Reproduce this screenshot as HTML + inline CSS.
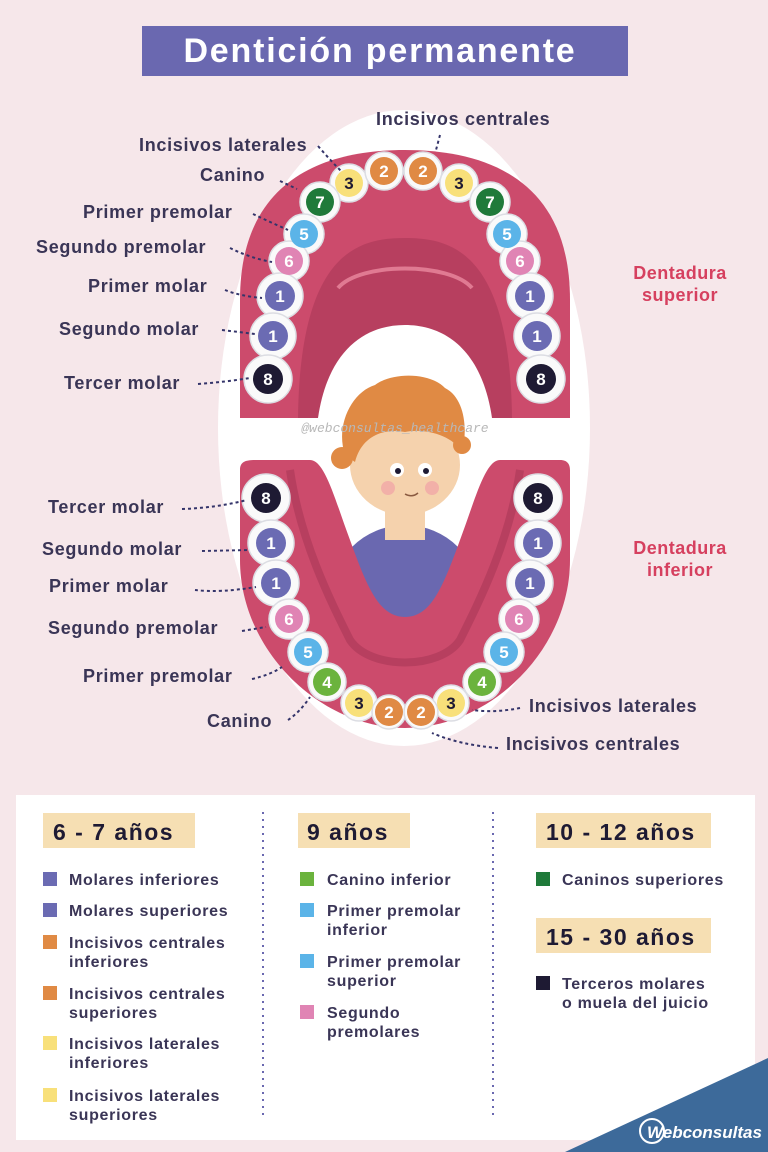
<!DOCTYPE html>
<html><head><meta charset="utf-8"><style>
body{margin:0;width:768px;height:1152px;background:#f6e7ea;overflow:hidden;font-family:"Liberation Sans",sans-serif}
svg{position:absolute;left:0;top:0}
</style></head><body>
<svg width="768" height="1152" viewBox="0 0 768 1152" font-family="Liberation Sans, sans-serif">
<rect x="0" y="0" width="768" height="1152" fill="#f6e7ea"/>
<rect x="142" y="26" width="486" height="50" fill="#6a68b0"/>
<text x="380" y="62" text-anchor="middle" font-size="34" font-weight="bold" letter-spacing="1.8" fill="#fff">Dentición permanente</text>
<ellipse cx="404" cy="428" rx="186" ry="318" fill="#fff"/>
<!-- upper gum -->
<path d="M240,418 L240,300 C240,175 330,150 405,150 C480,150 570,175 570,300 L570,418 Z" fill="#cc4b6c"/>
<path d="M298,418 C300,250 360,238 405,238 C450,238 510,250 512,418 Z" fill="#b73f5f"/>
<path d="M318,418 C328,350 365,325 405,325 C445,325 482,350 492,418 Z" fill="#fff"/>
<path d="M338,288 C360,262 450,262 472,288" stroke="#e07a92" stroke-width="4" fill="none"/>
<!-- boy -->
<ellipse cx="405" cy="600" rx="75" ry="75" fill="#6a68b0"/>
<rect x="385" y="500" width="40" height="40" fill="#f5d2ad"/>
<ellipse cx="405" cy="465" rx="55" ry="50" fill="#f5d2ad"/>
<path d="M345,455 C335,425 352,392 375,385 C392,372 430,372 445,388 C465,398 468,430 462,452 C452,435 425,428 405,432 C385,428 362,435 355,462 Z" fill="#e08a44"/>
<circle cx="342" cy="458" r="11" fill="#e08a44"/><circle cx="462" cy="445" r="9" fill="#e08a44"/>
<circle cx="397" cy="470" r="7" fill="#fff"/><circle cx="398" cy="471" r="3" fill="#1e1a33"/>
<circle cx="425" cy="470" r="7" fill="#fff"/><circle cx="426" cy="471" r="3" fill="#1e1a33"/>
<circle cx="388" cy="488" r="7" fill="#f2b0a8"/><circle cx="432" cy="488" r="7" fill="#f2b0a8"/>
<path d="M405,494 Q412,498 418,493" stroke="#8a5a40" stroke-width="1.5" fill="none"/>
<text x="395" y="432" text-anchor="middle" font-family="Liberation Mono, monospace" font-style="italic" font-size="13" fill="#b8b8b8">@webconsultas_healthcare</text>
<!-- lower gum -->
<path d="M240,470 C240,462 245,460 255,460 L310,460 C325,460 335,500 350,540 C368,590 380,617 405,617 C430,617 442,590 460,540 C475,500 485,460 500,460 L560,460 C568,460 570,465 570,470 L570,560 C570,650 490,728 405,728 C320,728 240,650 240,560 Z" fill="#cc4b6c"/>
<path d="M290,470 C300,540 330,600 350,640 C370,670 440,670 460,640 C480,600 510,540 520,470" stroke="#b73f5f" stroke-width="8" fill="none"/>
<g font-weight="bold" font-size="17" text-anchor="middle">
<g stroke="#dcdde3" stroke-width="1.5">
<circle cx="349" cy="183" r="19" fill="#fafafa"/><circle cx="384" cy="171" r="19" fill="#fafafa"/><circle cx="423" cy="171" r="19" fill="#fafafa"/><circle cx="459" cy="183" r="19" fill="#fafafa"/>
<circle cx="320" cy="202" r="20" fill="#fafafa"/><circle cx="490" cy="202" r="20" fill="#fafafa"/>
<circle cx="304" cy="234" r="20" fill="#fafafa"/><circle cx="507" cy="234" r="20" fill="#fafafa"/>
<circle cx="289" cy="261" r="20" fill="#fafafa"/><circle cx="520" cy="261" r="20" fill="#fafafa"/>
<circle cx="280" cy="296" r="23" fill="#fafafa"/><circle cx="530" cy="296" r="23" fill="#fafafa"/>
<circle cx="273" cy="336" r="23" fill="#fafafa"/><circle cx="537" cy="336" r="23" fill="#fafafa"/>
<circle cx="268" cy="379" r="24" fill="#fafafa"/><circle cx="541" cy="379" r="24" fill="#fafafa"/>
<circle cx="266" cy="498" r="24" fill="#fafafa"/><circle cx="538" cy="498" r="24" fill="#fafafa"/>
<circle cx="271" cy="543" r="23" fill="#fafafa"/><circle cx="538" cy="543" r="23" fill="#fafafa"/>
<circle cx="276" cy="583" r="23" fill="#fafafa"/><circle cx="530" cy="583" r="23" fill="#fafafa"/>
<circle cx="289" cy="619" r="20" fill="#fafafa"/><circle cx="519" cy="619" r="20" fill="#fafafa"/>
<circle cx="308" cy="652" r="20" fill="#fafafa"/><circle cx="504" cy="652" r="20" fill="#fafafa"/>
<circle cx="327" cy="682" r="19" fill="#fafafa"/><circle cx="482" cy="682" r="19" fill="#fafafa"/>
<circle cx="359" cy="703" r="18" fill="#fafafa"/><circle cx="451" cy="703" r="18" fill="#fafafa"/>
<circle cx="389" cy="712" r="17" fill="#fafafa"/><circle cx="421" cy="712" r="17" fill="#fafafa"/>
</g>
<circle cx="349" cy="183" r="14" fill="#f8e07a"/><text x="349" y="189" fill="#1e1a33">3</text>
<circle cx="384" cy="171" r="14" fill="#e08a44"/><text x="384" y="177" fill="#fff">2</text>
<circle cx="423" cy="171" r="14" fill="#e08a44"/><text x="423" y="177" fill="#fff">2</text>
<circle cx="459" cy="183" r="14" fill="#f8e07a"/><text x="459" y="189" fill="#1e1a33">3</text>
<circle cx="320" cy="202" r="14" fill="#1f7a3a"/><text x="320" y="208" fill="#fff">7</text>
<circle cx="490" cy="202" r="14" fill="#1f7a3a"/><text x="490" y="208" fill="#fff">7</text>
<circle cx="304" cy="234" r="14" fill="#5bb4e8"/><text x="304" y="240" fill="#fff">5</text>
<circle cx="507" cy="234" r="14" fill="#5bb4e8"/><text x="507" y="240" fill="#fff">5</text>
<circle cx="289" cy="261" r="14" fill="#e084b4"/><text x="289" y="267" fill="#fff">6</text>
<circle cx="520" cy="261" r="14" fill="#e084b4"/><text x="520" y="267" fill="#fff">6</text>
<circle cx="280" cy="296" r="15" fill="#6b6bb3"/><text x="280" y="302" fill="#fff">1</text>
<circle cx="530" cy="296" r="15" fill="#6b6bb3"/><text x="530" y="302" fill="#fff">1</text>
<circle cx="273" cy="336" r="15" fill="#6b6bb3"/><text x="273" y="342" fill="#fff">1</text>
<circle cx="537" cy="336" r="15" fill="#6b6bb3"/><text x="537" y="342" fill="#fff">1</text>
<circle cx="268" cy="379" r="15" fill="#1e1a33"/><text x="268" y="385" fill="#fff">8</text>
<circle cx="541" cy="379" r="15" fill="#1e1a33"/><text x="541" y="385" fill="#fff">8</text>
<circle cx="266" cy="498" r="15" fill="#1e1a33"/><text x="266" y="504" fill="#fff">8</text>
<circle cx="538" cy="498" r="15" fill="#1e1a33"/><text x="538" y="504" fill="#fff">8</text>
<circle cx="271" cy="543" r="15" fill="#6b6bb3"/><text x="271" y="549" fill="#fff">1</text>
<circle cx="538" cy="543" r="15" fill="#6b6bb3"/><text x="538" y="549" fill="#fff">1</text>
<circle cx="276" cy="583" r="15" fill="#6b6bb3"/><text x="276" y="589" fill="#fff">1</text>
<circle cx="530" cy="583" r="15" fill="#6b6bb3"/><text x="530" y="589" fill="#fff">1</text>
<circle cx="289" cy="619" r="14" fill="#e084b4"/><text x="289" y="625" fill="#fff">6</text>
<circle cx="519" cy="619" r="14" fill="#e084b4"/><text x="519" y="625" fill="#fff">6</text>
<circle cx="308" cy="652" r="14" fill="#5bb4e8"/><text x="308" y="658" fill="#fff">5</text>
<circle cx="504" cy="652" r="14" fill="#5bb4e8"/><text x="504" y="658" fill="#fff">5</text>
<circle cx="327" cy="682" r="14" fill="#6bb33d"/><text x="327" y="688" fill="#fff">4</text>
<circle cx="482" cy="682" r="14" fill="#6bb33d"/><text x="482" y="688" fill="#fff">4</text>
<circle cx="359" cy="703" r="14" fill="#f8e07a"/><text x="359" y="709" fill="#1e1a33">3</text>
<circle cx="451" cy="703" r="14" fill="#f8e07a"/><text x="451" y="709" fill="#1e1a33">3</text>
<circle cx="389" cy="712" r="14" fill="#e08a44"/><text x="389" y="718" fill="#fff">2</text>
<circle cx="421" cy="712" r="14" fill="#e08a44"/><text x="421" y="718" fill="#fff">2</text>
</g>
<!-- labels -->
<g font-size="18" font-weight="bold" fill="#3a3556" letter-spacing="0.7">
<text x="376" y="125">Incisivos centrales</text>
<text x="139" y="151">Incisivos laterales</text>
<text x="200" y="181">Canino</text>
<text x="83" y="218">Primer premolar</text>
<text x="36" y="253">Segundo premolar</text>
<text x="88" y="292">Primer molar</text>
<text x="59" y="335">Segundo molar</text>
<text x="64" y="389">Tercer molar</text>
<text x="48" y="513">Tercer molar</text>
<text x="42" y="555">Segundo molar</text>
<text x="49" y="592">Primer molar</text>
<text x="48" y="634">Segundo premolar</text>
<text x="83" y="682">Primer premolar</text>
<text x="207" y="727">Canino</text>
<text x="529" y="712">Incisivos laterales</text>
<text x="506" y="750">Incisivos centrales</text>
</g>
<g font-size="18" font-weight="bold" fill="#d6405f" text-anchor="middle" letter-spacing="0.5">
<text x="680" y="279">Dentadura</text><text x="680" y="301">superior</text>
<text x="680" y="554">Dentadura</text><text x="680" y="576">inferior</text>
</g>
<g stroke="#34346a" stroke-width="2" stroke-dasharray="3,3" fill="none">
<path d="M440,135 L436,150"/><path d="M318,146 Q330,160 342,172"/><path d="M280,181 L297,189"/>
<path d="M253,214 Q270,222 288,230"/><path d="M230,248 Q250,258 272,262"/><path d="M225,290 Q240,296 262,298"/>
<path d="M222,330 L255,334"/><path d="M198,384 Q225,382 250,378"/>
<path d="M182,509 Q215,508 247,500"/><path d="M202,551 L250,550"/><path d="M195,590 Q220,593 256,587"/>
<path d="M242,631 L266,627"/><path d="M252,679 Q270,675 282,667"/><path d="M288,720 Q300,712 310,697"/>
<path d="M520,708 Q495,713 472,710"/><path d="M498,748 Q460,745 432,733"/>
</g>
<!-- legend -->
<rect x="16" y="795" width="739" height="345" fill="#fff"/>
<g stroke="#6a68b0" stroke-width="2" stroke-dasharray="2,5"><line x1="263" y1="812" x2="263" y2="1120"/><line x1="493" y1="812" x2="493" y2="1120"/></g>
<g fill="#f6dfb3"><rect x="43" y="813" width="152" height="35"/><rect x="298" y="813" width="112" height="35"/><rect x="536" y="813" width="175" height="35"/><rect x="536" y="918" width="175" height="35"/></g>
<g font-size="23" font-weight="bold" fill="#1e1a33" letter-spacing="1.5">
<text x="53" y="840">6 - 7 años</text><text x="307" y="840">9 años</text><text x="546" y="840">10 - 12 años</text><text x="546" y="945">15 - 30 años</text>
</g>
<g font-size="16" fill="#3a3556" font-weight="bold" letter-spacing="0.7">
<rect x="43" y="872" width="14" height="14" fill="#6b6bb3"/><text x="69" y="885">Molares inferiores</text>
<rect x="43" y="903" width="14" height="14" fill="#6b6bb3"/><text x="69" y="916">Molares superiores</text>
<rect x="43" y="935" width="14" height="14" fill="#e08a44"/><text x="69" y="948">Incisivos centrales</text><text x="69" y="967">inferiores</text>
<rect x="43" y="986" width="14" height="14" fill="#e08a44"/><text x="69" y="999">Incisivos centrales</text><text x="69" y="1018">superiores</text>
<rect x="43" y="1036" width="14" height="14" fill="#f8e07a"/><text x="69" y="1049">Incisivos laterales</text><text x="69" y="1068">inferiores</text>
<rect x="43" y="1088" width="14" height="14" fill="#f8e07a"/><text x="69" y="1101">Incisivos laterales</text><text x="69" y="1120">superiores</text>
<rect x="300" y="872" width="14" height="14" fill="#6bb33d"/><text x="327" y="885">Canino inferior</text>
<rect x="300" y="903" width="14" height="14" fill="#5bb4e8"/><text x="327" y="916">Primer premolar</text><text x="327" y="935">inferior</text>
<rect x="300" y="954" width="14" height="14" fill="#5bb4e8"/><text x="327" y="967">Primer premolar</text><text x="327" y="986">superior</text>
<rect x="300" y="1005" width="14" height="14" fill="#e084b4"/><text x="327" y="1018">Segundo</text><text x="327" y="1037">premolares</text>
<rect x="536" y="872" width="14" height="14" fill="#1f7a3a"/><text x="562" y="885">Caninos superiores</text>
<rect x="536" y="976" width="14" height="14" fill="#1e1a33"/><text x="562" y="989">Terceros molares</text><text x="562" y="1008">o muela del juicio</text>
</g>
<path d="M565,1152 L768,1058 L768,1152 Z" fill="#3d6a9a"/>
<circle cx="652" cy="1131" r="12" fill="none" stroke="#fff" stroke-width="2"/>
<text x="647" y="1138" font-size="17" font-weight="bold" font-style="italic" fill="#fff">Webconsultas</text>
</svg>
</body></html>
